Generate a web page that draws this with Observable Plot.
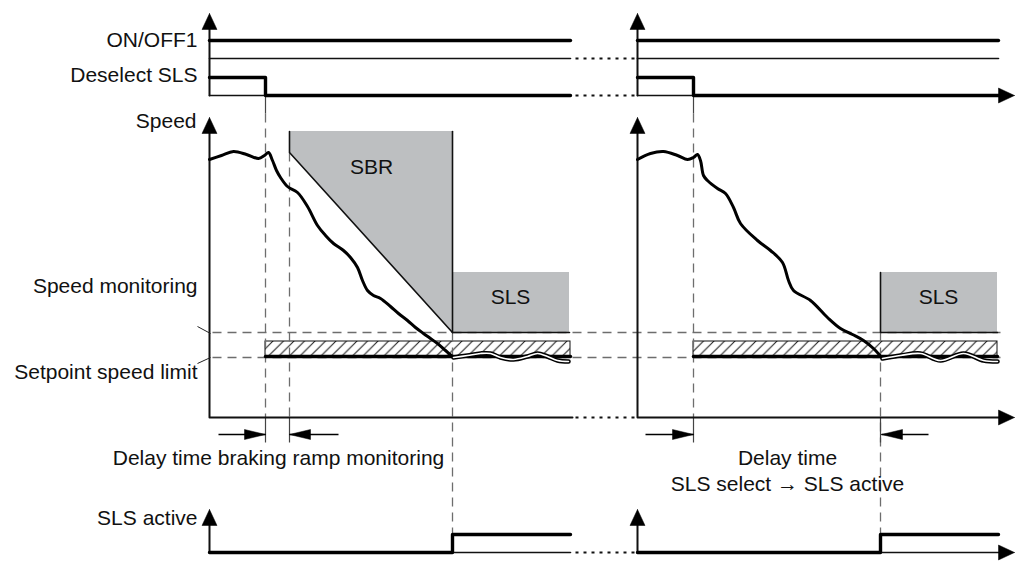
<!DOCTYPE html>
<html>
<head>
<meta charset="utf-8">
<script src="https://cdn.jsdelivr.net/npm/d3@7"></script>
<script src="https://cdn.jsdelivr.net/npm/@observablehq/plot@0.6"></script>
<style>
  html, body { margin: 0; padding: 0; background: #fff; }
  #chart svg { display: block; }
</style>
</head>
<body>
<div id="chart"></div>
<script>
// ---- Diagram data (time units horizontally, level units vertically) ----
const W = 1017, H = 566;

// Labels on the left of the time axes
const sideLabels = [
  {text: "ON/OFF1", t: 197, v: 40},
  {text: "Deselect SLS", t: 197, v: 75},
  {text: "Speed", t: 196, v: 121},
  {text: "Speed monitoring", t: 197, v: 286},
  {text: "Setpoint speed limit", t: 197, v: 372},
  {text: "SLS active", t: 197, v: 518}
];
const areaLabels = [
  {text: "SBR", t: 371, v: 167},
  {text: "SLS", t: 510, v: 297},
  {text: "SLS", t: 938, v: 297}
];
const noteLabels = [
  {text: "Delay time braking ramp monitoring", t: 278, v: 458},
  {text: "Delay time", t: 787, v: 458},
  {text: "SLS select \u2192 SLS active", t: 787, v: 484}
];

// Binary signal traces (thick = signal, thin = signal low level)
const thickTraces = [
  {id: "onL",  pts: [[209,40],[570,40]]},
  {id: "onR",  pts: [[637,40],[998,40]]},
  {id: "desL", pts: [[209,77],[265,77],[265,95],[570,95]]},
  {id: "desR", pts: [[637,77],[693,77],[693,95],[1000,95]]},
  {id: "actL", pts: [[209,552],[452,552],[452,534],[570,534]]},
  {id: "actR", pts: [[637,552],[880,552],[880,534],[998,534]]},
  {id: "limL", pts: [[265,356],[570,356]]},
  {id: "limR", pts: [[693,356],[997,356]]}
];
const thinTraces = [
  {id: "on0L", pts: [[209,58],[570,58]]},
  {id: "on0R", pts: [[637,58],[998,58]]},
  {id: "de0L", pts: [[209,95],[265,95]]},
  {id: "de0R", pts: [[637,95],[693,95]]},
  {id: "ac0L", pts: [[452,552],[570,552]]},
  {id: "ac0R", pts: [[880,552],[1000,552]]}
];
const axisTraces = [
  {id: "sigL", pts: [[209,28],[209,95]]},
  {id: "sigR", pts: [[637,28],[637,95]]},
  {id: "spdL", pts: [[209,132],[209,417],[572,417]]},
  {id: "spdR", pts: [[637,132],[637,417],[1000,417]]},
  {id: "actAL", pts: [[209,524],[209,552]]},
  {id: "actAR", pts: [[637,524],[637,552]]}
];
// gaps in the time axis (dotted)
const dottedGaps = [[575,635,58],[575,635,95],[575,635,417],[575,635,552]];

// Monitoring levels and event times (dashed guides)
const dashedH = [[212,1000,332],[212,1000,357]];
const dashedV = [[265,113,417],[289,152,417],[693,113,417],[452,332,534],[880,332,534]];
const extV = [[265,96,113],[693,96,113],[265,417,442],[289,417,442],[693,417,442],[880,417,442]];

// Speed curves
const speedLeft = [[209,159],[221,155],[233,151],[246,154],[258,158],[264,155],[268,152],[272,160],[276,170],[280,177],[287,186],[297,192],[307,206],[317,225],[325,235],[333,243],[343,250],[350,257],[357,267],[362,280],[367,290],[373,295],[380,298],[390,306],[398,313],[407,320],[415,327],[423,333],[430,338],[437,343],[445,350],[453,357]];
const tailLeft = [[453,357],[467,355],[480,353],[490,353],[500,357],[513,359],[527,356],[537,353],[547,356],[557,360],[568,361]];
const speedRight = [[637,159],[650,153],[663,151],[677,155],[687,159],[693,157],[697,154],[700,160],[703,175],[707,180],[717,188],[725,193],[733,207],[740,223],[757,240],[770,250],[782,262],[788,280],[793,290],[810,300],[827,317],[840,328],[852,334],[863,340],[873,348],[882,358]];
const tailRight = [[882,358],[900,355],[920,353],[940,360],[963,353],[983,360],[997,361]];

// SBR envelope (time, lower edge, upper edge) and SLS limit boxes
const sbrEnvelope = [{t: 289, lo: 152, hi: 131}, {t: 452, lo: 332, hi: 131}];
const slsBoxes = [{t1: 452, t2: 569, v1: 272, v2: 332}, {t1: 880, t2: 997, v1: 272, v2: 332}];
const toleranceBands = [{t1: 265, t2: 570, v1: 341, v2: 356}, {t1: 693, t2: 997, v1: 341, v2: 356}];
const outlineTraces = [
  {id: "sbrL", pts: [[289,131],[289,152],[452,332]]},
  {id: "sbrR", pts: [[452,131],[452,332]]},
  {id: "boxL", pts: [[452,332],[569,332]]},
  {id: "boxR", pts: [[880,272],[880,332],[997,332]]}
];
const leaders = [[197,326,210,333],[197,363,210,357]];

// Arrowheads: tip position and direction
const axisArrows = [
  {t: 209, v: 13, dir: "up"}, {t: 209, v: 117, dir: "up"}, {t: 209, v: 509, dir: "up"},
  {t: 637, v: 13, dir: "up"}, {t: 637, v: 117, dir: "up"}, {t: 637, v: 509, dir: "up"},
  {t: 1014, v: 95, dir: "right"}, {t: 1014, v: 417, dir: "right"}, {t: 1014, v: 552, dir: "right"}
];
const dimArrows = [
  {from: 218, to: 265, v: 434}, {from: 338, to: 289, v: 434},
  {from: 645, to: 693, v: 434}, {from: 928, to: 881, v: 434}
];

// ---- helpers ----
const flat = (traces) => traces.flatMap(d => d.pts.map(([t, v]) => ({id: d.id, t, v})));
const toPts = (arr) => arr.map(([t, v]) => ({t, v}));
function triangle(id, tx, ty, dx, dy, len, wid) {
  const bx = tx - dx * len, by = ty - dy * len;
  const px = -dy * wid / 2, py = dx * wid / 2;
  return [
    {id, t: tx, v: ty}, {id, t: bx + px, v: by + py}, {id, t: bx - px, v: by - py}, {id, t: tx, v: ty}
  ];
}
const dirs = {up: [0, -1], right: [1, 0], left: [-1, 0]};
const heads = [
  ...axisArrows.flatMap((a, i) => triangle("a" + i, a.t, a.v, ...dirs[a.dir], 16, 15)),
  ...dimArrows.flatMap((a, i) => triangle("d" + i, a.to, a.v, Math.sign(a.to - a.from), 0, 21, 10))
];

const FONT = "'Liberation Sans', Arial, Helvetica, sans-serif";
const GUIDE = "#6d6d6d";

const chart = Plot.plot({
  width: W, height: H, margin: 0,
  x: {domain: [0, W], range: [0, W], axis: null},
  y: {domain: [0, H], range: [0, H], axis: null},
  style: {fontFamily: FONT, background: "#fff"},
  marks: [
    // grey monitoring areas
    Plot.areaY(sbrEnvelope, {x: "t", y1: "lo", y2: "hi", fill: "#bdbfc1"}),
    Plot.rect(slsBoxes, {x1: "t1", x2: "t2", y1: "v1", y2: "v2", fill: "#bdbfc1"}),
    // hatched tolerance band
    Plot.rect(toleranceBands, {x1: "t1", x2: "t2", y1: "v1", y2: "v2", fill: "url(#hatch)", stroke: "#111", strokeWidth: 1}),
    // dashed guides
    Plot.link(dashedH, {x1: d => d[0], x2: d => d[1], y1: d => d[2], y2: d => d[2], stroke: GUIDE, strokeWidth: 1.3, strokeDasharray: "9,6"}),
    Plot.link(dashedV, {x1: d => d[0], x2: d => d[0], y1: d => d[1], y2: d => d[2], stroke: GUIDE, strokeWidth: 1.3, strokeDasharray: "9,6"}),
    Plot.link(extV, {x1: d => d[0], x2: d => d[0], y1: d => d[1], y2: d => d[2], stroke: "#444", strokeWidth: 1.2}),
    // outlines of the monitoring areas
    Plot.line(flat(outlineTraces), {x: "t", y: "v", z: "id", stroke: "#111", strokeWidth: 1.6}),
    // axes
    Plot.line(flat(axisTraces), {x: "t", y: "v", z: "id", stroke: "#111", strokeWidth: 2}),
    Plot.link(dottedGaps, {x1: d => d[0], x2: d => d[1], y1: d => d[2], y2: d => d[2], stroke: "#111", strokeWidth: 2, strokeDasharray: "3,5"}),
    Plot.link(leaders, {x1: d => d[0], y1: d => d[1], x2: d => d[2], y2: d => d[3], stroke: "#222", strokeWidth: 1}),
    // signals
    Plot.line(flat(thinTraces), {x: "t", y: "v", z: "id", stroke: "#111", strokeWidth: 1.6}),
    Plot.line(flat(thickTraces), {x: "t", y: "v", z: "id", stroke: "#000", strokeWidth: 3.4}),
    // speed curves
    Plot.line(toPts(speedLeft), {x: "t", y: "v", stroke: "#000", strokeWidth: 3, curve: "catmull-rom"}),
    Plot.line(toPts(speedRight), {x: "t", y: "v", stroke: "#000", strokeWidth: 3, curve: "catmull-rom"}),
    Plot.line(toPts(tailLeft), {x: "t", y: "v", stroke: "#000", strokeWidth: 4.6, curve: "catmull-rom"}),
    Plot.line(toPts(tailLeft), {x: "t", y: "v", stroke: "#fff", strokeWidth: 1.6, curve: "catmull-rom"}),
    Plot.line(toPts(tailRight), {x: "t", y: "v", stroke: "#000", strokeWidth: 4.6, curve: "catmull-rom"}),
    Plot.line(toPts(tailRight), {x: "t", y: "v", stroke: "#fff", strokeWidth: 1.6, curve: "catmull-rom"}),
    // dimension arrow shafts + arrowheads
    Plot.link(dimArrows, {x1: "from", x2: "to", y1: "v", y2: "v", stroke: "#000", strokeWidth: 1.6}),
    Plot.line(heads, {x: "t", y: "v", z: "id", fill: "#000", stroke: "#000", strokeWidth: 0.5}),
    // texts
    Plot.text(sideLabels, {x: "t", y: "v", text: "text", textAnchor: "end", fontSize: 21, fill: "#111"}),
    Plot.text(areaLabels, {x: "t", y: "v", text: "text", fontSize: 21, fill: "#111"}),
    Plot.text(noteLabels, {x: "t", y: "v", text: "text", fontSize: 21, fill: "#111"})
  ]
});

// hatch pattern definition
const defs = d3.select(chart).insert("defs", ":first-child");
const pat = defs.append("pattern")
  .attr("id", "hatch").attr("patternUnits", "userSpaceOnUse")
  .attr("width", 10.5).attr("height", 10.5)
  .attr("patternTransform", "translate(0,341)");
pat.append("rect").attr("width", 10.5).attr("height", 10.5).attr("fill", "#fff");
pat.append("path").attr("d", "M-1,1 L1,-1 M0,10.5 L10.5,0 M9.5,11.5 L11.5,9.5")
  .attr("stroke", "#111").attr("stroke-width", 1);

document.getElementById("chart").appendChild(chart);
</script>
</body>
</html>
